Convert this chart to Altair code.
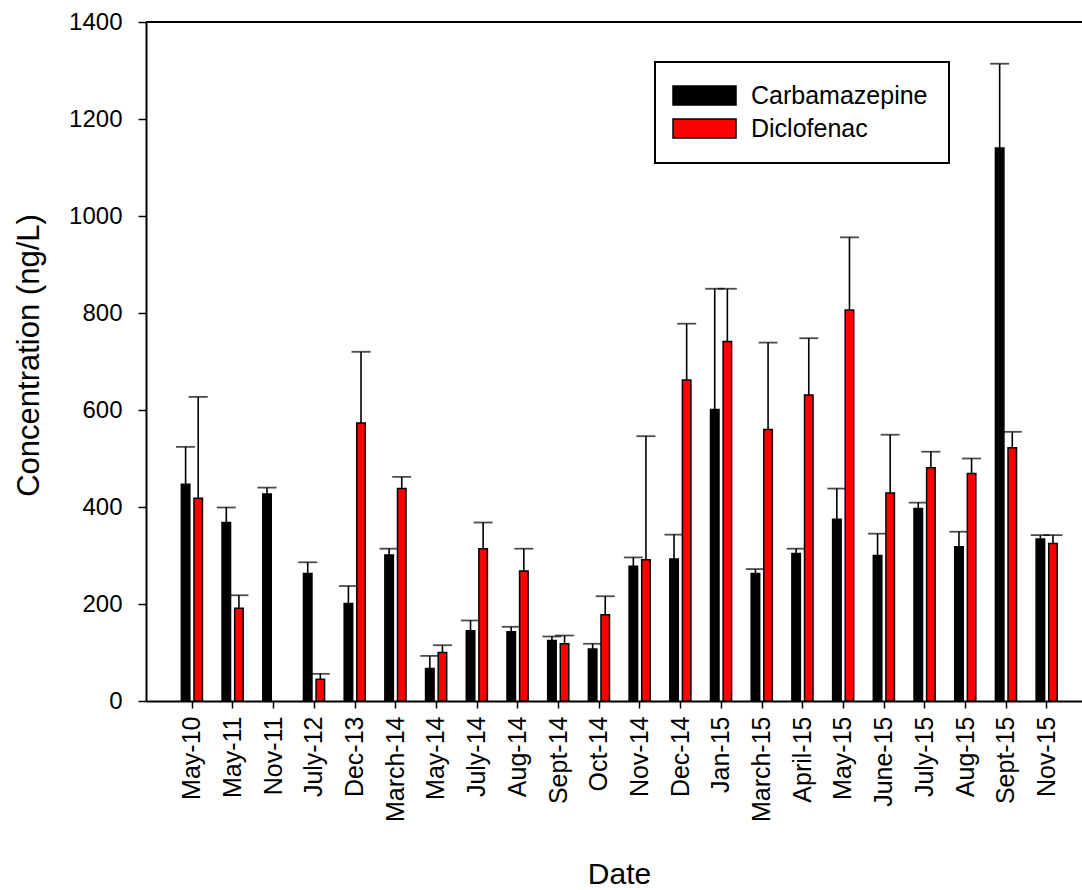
import altair as alt
import pandas as pd

dates = ["May-10", "May-11", "Nov-11", "July-12", "Dec-13", "March-14", "May-14",
         "July-14", "Aug-14", "Sept-14", "Oct-14", "Nov-14", "Dec-14", "Jan-15",
         "March-15", "April-15", "May-15", "June-15", "July-15", "Aug-15",
         "Sept-15", "Nov-15"]

carbamazepine = [447, 368, 427, 263, 201, 301, 67, 145, 143, 125, 107, 278, 293,
                 601, 263, 304, 375, 300, 397, 318, 1140, 334]
carbamazepine_sd = [77, 31, 13, 23, 36, 13, 26, 21, 10, 8, 11, 18, 50, 249, 9, 10,
                    63, 45, 12, 31, 174, 8]

diclofenac = [418, 191, None, 45, 573, 438, 100, 314, 268, 118, 178, 291, 662, 741,
              560, 631, 806, 429, 481, 469, 522, 325]
diclofenac_sd = [209, 27, None, 11, 147, 24, 15, 54, 46, 17, 38, 255, 116, 109, 179,
                 117, 150, 120, 33, 31, 33, 17]

series = ["Carbamazepine", "Diclofenac"]

rows = []
for i, d in enumerate(dates):
    for s, vals, sds in ((series[0], carbamazepine, carbamazepine_sd),
                         (series[1], diclofenac, diclofenac_sd)):
        if vals[i] is None:
            continue
        rows.append({"date": d, "idx": i + 1, "series": s,
                     "value": vals[i], "upper": vals[i] + sds[i]})
df = pd.DataFrame(rows)

FONT = "Liberation Sans"
names_js = "[" + ",".join("'" + d + "'" for d in dates) + "]"

base = alt.Chart(df).transform_calculate(
    xpos="datum.idx + (datum.series == 'Carbamazepine' ? -0.15 : 0.16)"
)

x_enc = alt.X(
    "xpos:Q",
    scale=alt.Scale(domain=[0, 22.75], nice=False, zero=False),
    axis=alt.Axis(
        values=list(range(1, len(dates) + 1)),
        labelExpr=names_js + "[datum.value - 1]",
        labelAngle=-90,
        labelAlign="right",
        labelBaseline="middle",
        labelFontSize=25,
        labelFont=FONT,
        labelColor="black",
        labelPadding=8,
        tickSize=7,
        tickWidth=1.5,
        tickColor="black",
        domainColor="black",
        domainWidth=2,
        grid=False,
        title="Date",
        titleFont=FONT,
        titleFontSize=30,
        titleFontWeight="normal",
        titleColor="black",
        titleX=473,
        titleY=173,
        titleBaseline="middle",
        titleAlign="center",
        labelOverlap=False,
    ),
)

y_enc = alt.Y(
    "value:Q",
    scale=alt.Scale(domain=[0, 1400], nice=False),
    axis=alt.Axis(
        values=list(range(0, 1401, 200)),
        format="d",
        labelFontSize=24,
        labelFont=FONT,
        labelColor="black",
        labelPadding=16,
        tickSize=8,
        tickWidth=1.5,
        tickColor="black",
        domainColor="black",
        domainWidth=2,
        grid=False,
        title="Concentration (ng/L)",
        titleFont=FONT,
        titleFontSize=31,
        titleFontWeight="normal",
        titleColor="black",
        titleX=-108,
        titleY=333,
        titleAngle=-90,
        titleBaseline="alphabetic",
        titleAlign="center",
    ),
)

rules = base.mark_rule(color="black", strokeWidth=1.6).encode(
    x=alt.X("xpos:Q"), y=alt.Y("value:Q"), y2="upper:Q"
)
caps = base.mark_tick(orient="horizontal", size=19, thickness=1.8, color="black").encode(
    x=alt.X("xpos:Q"), y=alt.Y("upper:Q")
)

bars = base.mark_bar(size=8.5, stroke="black", strokeWidth=1.5, opacity=1).encode(
    x=x_enc,
    y=y_enc,
    fill=alt.Fill(
        "series:N",
        scale=alt.Scale(domain=series, range=["#000000", "#ff0000"]),
        legend=alt.Legend(
            title=None,
            orient="none",
            legendX=509,
            legendY=40,
            padding=21,
            fillColor="white",
            strokeColor="black",
            symbolType="M-1.63,-1L5,-1L5,1L-1.63,1Z",
            symbolSize=361,
            symbolStrokeColor="black",
            symbolStrokeWidth=1.5,
            symbolOpacity=1,
            labelFont=FONT,
            labelFontSize=25,
            labelColor="black",
            labelOffset=50,
            labelLimit=0,
            rowPadding=7,
        ),
    ),
)

top_line = alt.Chart(pd.DataFrame({"v": [1400]})).mark_rule(
    color="black", strokeWidth=2
).encode(y=alt.Y("v:Q"))

chart = alt.layer(rules, caps, bars, top_line).properties(
    width=936,
    height=679,
    autosize=alt.AutoSizeParams(type="none"),
    padding={"left": 146, "top": 22, "right": 0, "bottom": 189},
).configure_view(stroke=None).configure_legend(
    strokeWidth=2
)

chart.save("out.html", embed_options={"renderer": "svg", "actions": False})
